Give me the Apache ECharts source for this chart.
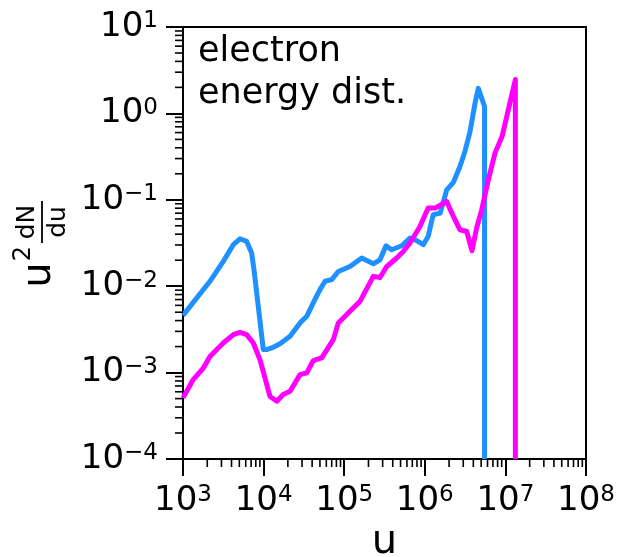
<!DOCTYPE html>
<html>
<head>
<meta charset="utf-8">
<script src="https://cdn.jsdelivr.net/npm/echarts@6/dist/echarts.min.js"></script>
<style>
  html, body { margin: 0; padding: 0; background: #fff; }
  #chart { width: 618px; height: 557px; }
</style>
</head>
<body>
<div id="chart"></div>
<script>
// Electron energy distributions u^2 dN/du for two runs
const blueU = [1000, 2160, 3160, 4210, 5090, 6170, 7110, 7600, 9910, 10900, 12600, 16000, 21300, 28300, 34300, 41400, 50100, 57800, 70000, 84500, 118000, 165000, 230000, 278000, 330000, 388000, 517000, 655000, 755000, 957000, 1100000, 1270000, 1550000, 1870000, 2260000, 2730000, 3160000, 3640000, 4200000, 4610000, 5510000, 5510000];
const blueV = [4.6e-3, 1.14e-2, 1.94e-2, 3.02e-2, 3.54e-2, 3.30e-2, 2.42e-2, 1.55e-2, 1.85e-3, 1.85e-3, 1.93e-3, 2.16e-3, 2.63e-3, 3.76e-3, 4.48e-3, 6.44e-3, 9.12e-3, 1.14e-2, 1.19e-2, 1.48e-2, 1.69e-2, 2.12e-2, 1.82e-2, 2.02e-2, 2.94e-2, 2.64e-2, 2.94e-2, 3.61e-2, 3.45e-2, 3.02e-2, 3.77e-2, 6.71e-2, 7.02e-2, 0.130, 0.159, 0.243, 0.368, 0.616, 1.31, 1.95, 1.20, 1e-4];

const pinkU = [1000, 1340, 1790, 2160, 3160, 4210, 5090, 6170, 7450, 9020, 12000, 14600, 17500, 21300, 28300, 34300, 41400, 52600, 73300, 84500, 118000, 157000, 230000, 278000, 337000, 448000, 541000, 655000, 871000, 1100000, 1340000, 1870000, 2260000, 2730000, 3310000, 3850000, 4400000, 5080000, 6140000, 7430000, 9080000, 11100000, 13300000, 13300000];
const pinkV = [5.1e-4, 8.3e-4, 1.13e-3, 1.54e-3, 2.20e-3, 2.75e-3, 2.92e-3, 2.75e-3, 2.20e-3, 1.41e-3, 5.3e-4, 4.66e-4, 5.57e-4, 6.08e-4, 9.48e-4, 9.93e-4, 1.38e-3, 1.48e-3, 2.41e-3, 3.76e-3, 5.12e-3, 6.67e-3, 1.30e-2, 1.26e-2, 1.69e-2, 2.12e-2, 2.52e-2, 3.16e-2, 4.91e-2, 8.02e-2, 8.02e-2, 9.55e-2, 6.41e-2, 4.50e-2, 4.30e-2, 2.57e-2, 4.75e-2, 7.66e-2, 0.170, 0.347, 0.539, 1.20, 2.47, 1e-4];

// Axis ranges (decade exponents)
const xDecades = [3, 8];
const yDecades = [-4, 1];

const FONT = 'DejaVu Sans';
const BLUE = '#1e90ff';
const PINK = '#ff00ff';

function zip(a, b) { return a.map((v, i) => [v, b[i]]); }

// Minor ticks at 2..9 x 10^k, placed through the axis scale by a custom series
function minorValues(lo, hi) {
  const out = [];
  for (let e = lo; e < hi; e++) {
    for (let m = 2; m <= 9; m++) out.push(m * Math.pow(10, e));
  }
  return out;
}
const xMin = Math.pow(10, xDecades[0]), xMax = Math.pow(10, xDecades[1]);
const yMin = Math.pow(10, yDecades[0]), yMax = Math.pow(10, yDecades[1]);
const xMinor = minorValues(xDecades[0], xDecades[1]).map(v => [v, yMin]);
const yMinor = minorValues(yDecades[0], yDecades[1]).map(v => [xMin, v]);

function powLabel(v) {
  const e = Math.round(Math.log10(v));
  const s = e < 0 ? '\u2212' + (-e) : String(e);
  return '{n|10}{s|' + s + '}';
}
const labelRich = {
  n: { fontSize: 34, fontFamily: FONT, color: '#000', lineHeight: 34, verticalAlign: 'middle' },
  s: { fontSize: 23, fontFamily: FONT, color: '#000', lineHeight: 22, verticalAlign: 'top' }
};

const chart = echarts.init(document.getElementById('chart'), null, { renderer: 'canvas' });

const option = {
  animation: false,
  backgroundColor: '#fff',
  grid: {
    left: 183, right: 32, top: 27, bottom: 98,
    show: true, borderColor: '#000', borderWidth: 2, backgroundColor: 'transparent'
  },
  xAxis: {
    type: 'log', logBase: 10, min: xMin, max: xMax,
    axisLine: { show: true, lineStyle: { color: '#000', width: 2 } },
    axisTick: { show: true, inside: false, length: 17, lineStyle: { color: '#000', width: 2 } },
    splitLine: { show: false },
    axisLabel: { margin: 25, formatter: powLabel, rich: labelRich }
  },
  yAxis: {
    type: 'log', logBase: 10, min: yMin, max: yMax,
    axisLine: { show: true, lineStyle: { color: '#000', width: 2 } },
    axisTick: { show: true, inside: false, length: 17, lineStyle: { color: '#000', width: 2 } },
    splitLine: { show: false },
    axisLabel: { margin: 25, formatter: powLabel, rich: labelRich }
  },
  series: [
    {
      type: 'line', data: zip(blueU, blueV), showSymbol: false, smooth: false,
      lineStyle: { color: BLUE, width: 5, join: 'round', cap: 'butt' }, z: 3
    },
    {
      type: 'line', data: zip(pinkU, pinkV), showSymbol: false, smooth: false,
      lineStyle: { color: PINK, width: 5, join: 'round', cap: 'butt' }, z: 4
    },
    {
      type: 'custom', data: xMinor, silent: true, clip: false, z: 5,
      renderItem: function (params, api) {
        const p = api.coord([api.value(0), api.value(1)]);
        return { type: 'line', shape: { x1: p[0], y1: p[1], x2: p[0], y2: p[1] + 8 },
                 style: { stroke: '#000', lineWidth: 1.6 } };
      }
    },
    {
      type: 'custom', data: yMinor, silent: true, clip: false, z: 5,
      renderItem: function (params, api) {
        const p = api.coord([api.value(0), api.value(1)]);
        return { type: 'line', shape: { x1: p[0] - 8, y1: p[1], x2: p[0], y2: p[1] },
                 style: { stroke: '#000', lineWidth: 1.6 } };
      }
    }
  ],
  graphic: [
    {
      type: 'text', x: 198, y: 31,
      style: { text: 'electron\nenergy dist.', fontSize: 35, fontFamily: FONT, fill: '#000',
               lineHeight: 42, align: 'left', verticalAlign: 'top' }
    },
    {
      type: 'text', x: 384.5, y: 543,
      style: { text: 'u', fontSize: 40, fontFamily: FONT, fill: '#000', align: 'center', verticalAlign: 'middle' }
    },
    // y-axis title: u^{2 dN/du}, written bottom-to-top
    {
      type: 'text', x: 40, y: 275, rotation: Math.PI / 2,
      style: { text: 'u', fontSize: 40, fontFamily: FONT, fill: '#000', align: 'center', verticalAlign: 'middle' }
    },
    {
      type: 'text', x: 24, y: 253.5, rotation: Math.PI / 2,
      style: { text: '2', fontSize: 24, fontFamily: FONT, fill: '#000', align: 'center', verticalAlign: 'middle' }
    },
    {
      type: 'text', x: 27, y: 222, rotation: Math.PI / 2,
      style: { text: 'dN', fontSize: 25, fontFamily: FONT, fill: '#000', align: 'center', verticalAlign: 'middle' }
    },
    {
      type: 'line', shape: { x1: 42, y1: 201, x2: 42, y2: 243 },
      style: { stroke: '#000', lineWidth: 1.8 }
    },
    {
      type: 'text', x: 58, y: 222, rotation: Math.PI / 2,
      style: { text: 'du', fontSize: 25, fontFamily: FONT, fill: '#000', align: 'center', verticalAlign: 'middle' }
    }
  ]
};
chart.setOption(option);
</script>
</body>
</html>
